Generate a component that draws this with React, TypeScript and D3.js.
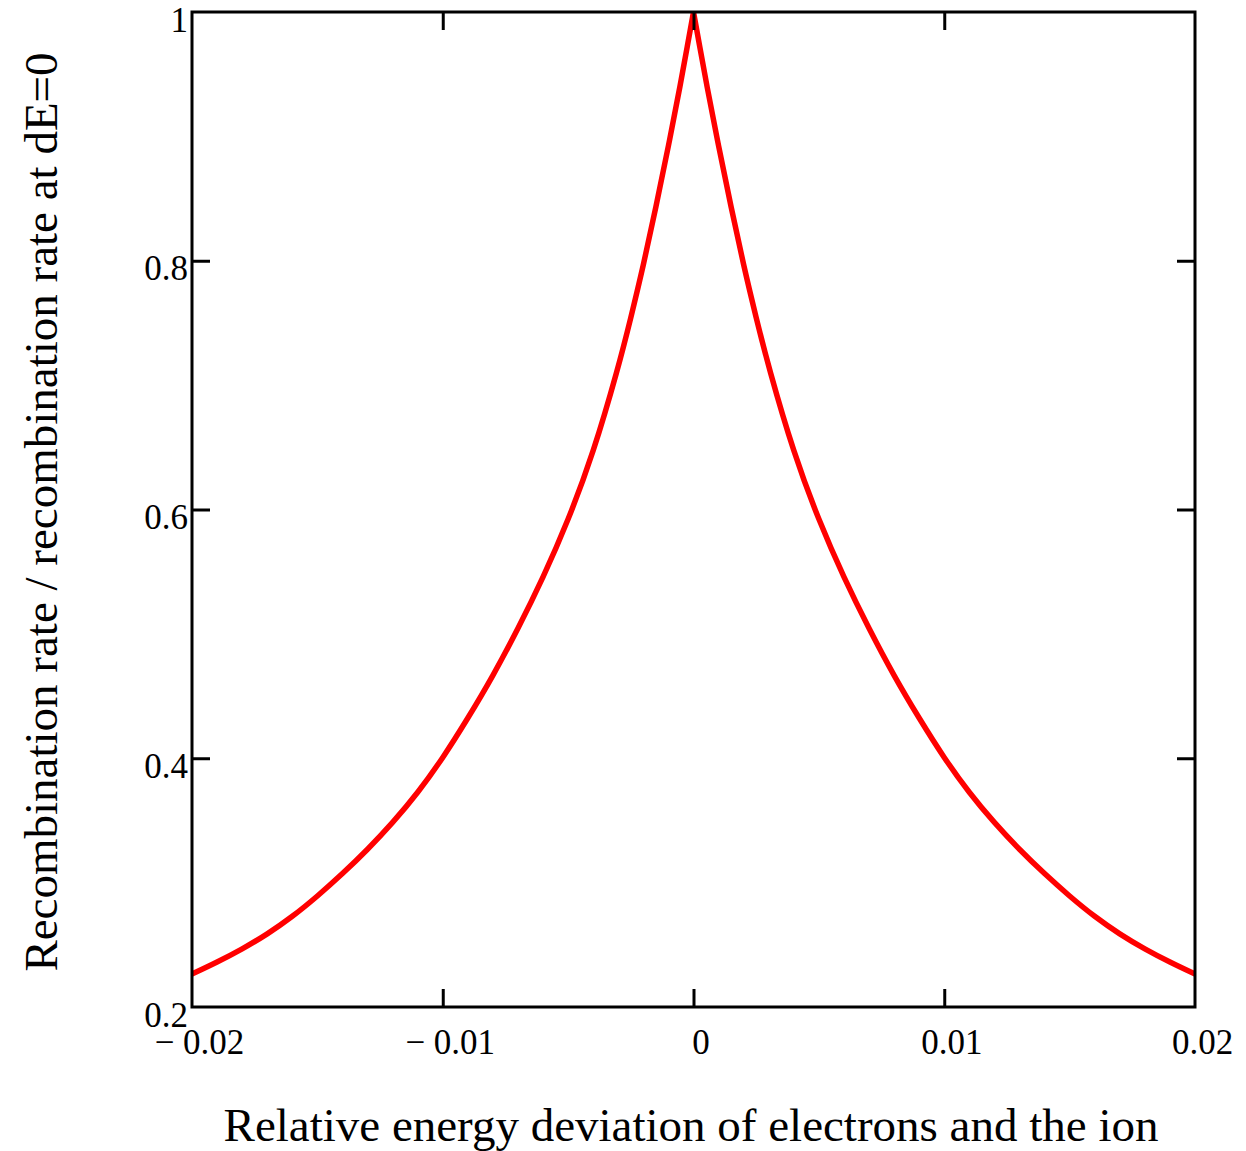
import { useEffect, useRef } from "react";
import * as d3 from "d3";

// relative energy deviation (dE) and normalised recombination rate
const dE = [
  -0.02, -0.019, -0.018, -0.017, -0.016, -0.015, -0.014, -0.013, -0.012, -0.011,
  -0.01, -0.009, -0.008, -0.007, -0.006, -0.005, -0.004, -0.003, -0.0025, -0.002,
  -0.0015, -0.001, -0.0005, -0.00025, 0,
  0.00025, 0.0005, 0.001, 0.0015, 0.002, 0.0025, 0.003, 0.004, 0.005, 0.006,
  0.007, 0.008, 0.009, 0.01, 0.011, 0.012, 0.013, 0.014, 0.015, 0.016,
  0.017, 0.018, 0.019, 0.02,
];
const rate = [
  0.2265, 0.236, 0.2465, 0.2585, 0.2725, 0.289, 0.307, 0.3265, 0.348, 0.372,
  0.4, 0.432, 0.466, 0.504, 0.545, 0.591, 0.645, 0.714, 0.754, 0.796,
  0.843, 0.892, 0.944, 0.972, 1.0,
  0.972, 0.944, 0.892, 0.843, 0.796, 0.754, 0.714, 0.645, 0.591, 0.545,
  0.504, 0.466, 0.432, 0.4, 0.372, 0.348, 0.3265, 0.307, 0.289, 0.2725,
  0.2585, 0.2465, 0.236, 0.2265,
];

const xTicks = [-0.02, -0.01, 0, 0.01, 0.02];
const xTickLabels = ["\u2212 0.02", "\u2212 0.01", "0", "0.01", "0.02"];
const yTicks = [0.2, 0.4, 0.6, 0.8, 1];
const yTickLabels = ["0.2", "0.4", "0.6", "0.8", "1"];

const xTitle = "Relative energy deviation of electrons and the ion";
const yTitle = "Recombination rate / recombination rate at dE=0";

const W = 1246;
const H = 1151;
const margin = { top: 12, right: 51, bottom: 144, left: 192 };
const font = "'Liberation Serif', 'DejaVu Serif', serif";

export default function App() {
  const svgRef = useRef<SVGSVGElement>(null);

  useEffect(() => {
    const svg = d3.select(svgRef.current);
    svg.selectAll("*").remove();

    const innerW = W - margin.left - margin.right;
    const innerH = H - margin.top - margin.bottom;

    const x = d3.scaleLinear().domain([-0.02, 0.02]).range([0, innerW]);
    const y = d3.scaleLinear().domain([0.2, 1]).range([innerH, 0]);

    const g = svg
      .append("g")
      .attr("transform", `translate(${margin.left},${margin.top})`);

    // 1) curve, drawn as two halves so the cusp at dE=0 stays sharp
    const pts = dE.map((d, i) => [d, rate[i]] as [number, number]);
    const left = pts.filter((p) => p[0] <= 0);
    const right = pts.filter((p) => p[0] >= 0);
    const line = d3
      .line<[number, number]>()
      .x((d) => x(d[0]))
      .y((d) => y(d[1]))
      .curve(d3.curveBasis);

    [left, right].forEach((half) => {
      g.append("path")
        .attr("d", line(half))
        .attr("fill", "none")
        .attr("stroke", "#ff0000")
        .attr("stroke-width", 5.5);
    });

    // 2) axes with inward ticks on all four sides
    const tickLen = 18;
    const styleAxis = (sel: any) => {
      sel.select(".domain").remove();
      sel.selectAll(".tick line").attr("stroke", "#000").attr("stroke-width", 3);
      sel
        .selectAll(".tick text")
        .attr("font-family", font)
        .attr("font-size", 35)
        .attr("fill", "#000");
    };

    const bottom = g
      .append("g")
      .attr("transform", `translate(0,${innerH})`)
      .call(
        d3
          .axisBottom(x)
          .tickValues(xTicks)
          .tickSize(-tickLen)
          .tickPadding(22)
          .tickFormat((d, i) => xTickLabels[i])
      );
    styleAxis(bottom);
    bottom.selectAll(".tick text").attr("dx", 7);
    bottom.selectAll(".tick line").filter((d: any) => d === -0.02 || d === 0.02).remove();

    const top = g
      .append("g")
      .call(d3.axisTop(x).tickValues([-0.01, 0, 0.01]).tickSize(-tickLen).tickFormat(() => ""));
    styleAxis(top);

    const leftAx = g
      .append("g")
      .call(
        d3
          .axisLeft(y)
          .tickValues(yTicks)
          .tickSize(-tickLen)
          .tickPadding(4)
          .tickFormat((d, i) => yTickLabels[i])
      );
    styleAxis(leftAx);
    leftAx.selectAll(".tick text").attr("dy", 19);
    leftAx.selectAll(".tick line").filter((d: any) => d === 0.2 || d === 1).remove();

    const rightAx = g
      .append("g")
      .attr("transform", `translate(${innerW},0)`)
      .call(d3.axisRight(y).tickValues([0.4, 0.6, 0.8]).tickSize(-tickLen).tickFormat(() => ""));
    styleAxis(rightAx);

    // 3) frame
    g.append("rect")
      .attr("width", innerW)
      .attr("height", innerH)
      .attr("fill", "none")
      .attr("stroke", "#000")
      .attr("stroke-width", 3);

    // 4) titles
    svg
      .append("text")
      .attr("x", 691)
      .attr("y", 1141)
      .attr("text-anchor", "middle")
      .attr("font-family", font)
      .attr("font-size", 47)
      .attr("fill", "#000")
      .text(xTitle);

    svg
      .append("text")
      .attr("transform", `translate(57,512) rotate(-90)`)
      .attr("text-anchor", "middle")
      .attr("font-family", font)
      .attr("font-size", 47)
      .attr("fill", "#000")
      .text(yTitle);
  }, []);

  return (
    <svg
      ref={svgRef}
      width={W}
      height={H}
      style={{ position: "absolute", left: 0, top: 0, background: "#fff" }}
    />
  );
}
